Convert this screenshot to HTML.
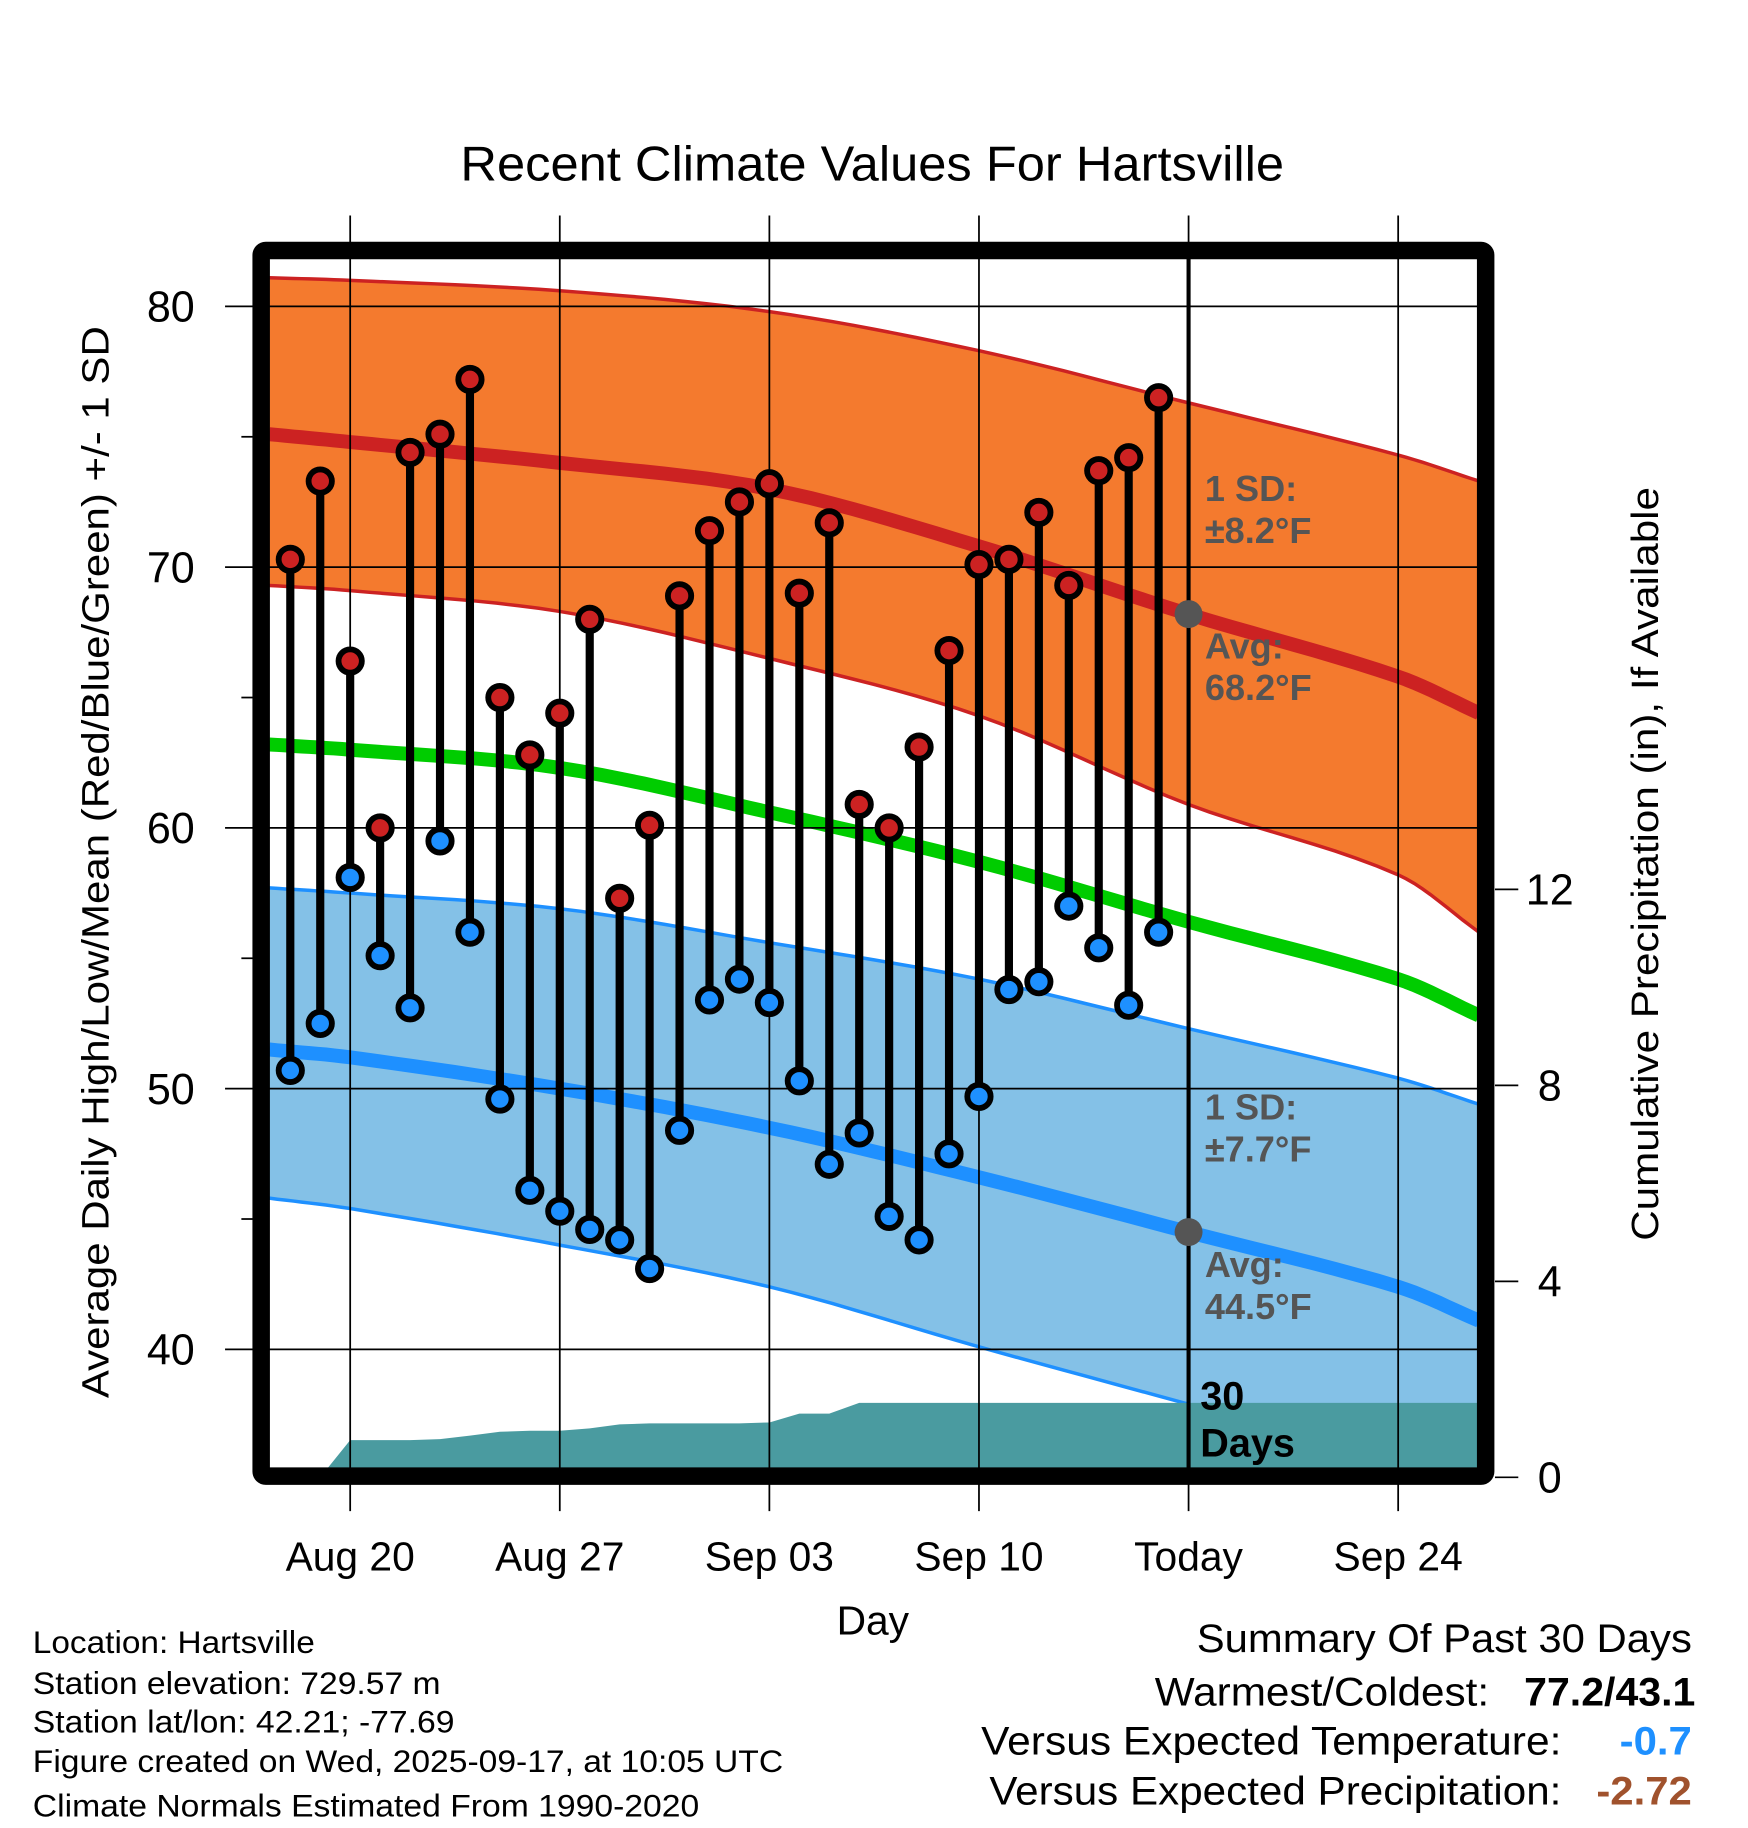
<!DOCTYPE html>
<html><head><meta charset="utf-8"><style>
html,body{margin:0;padding:0;background:#fff}
svg{display:block}
text{font-family:"Liberation Sans",sans-serif}
</style></head><body>
<svg id="chart" width="1748" height="1828" viewBox="0 0 1500 1569" xmlns="http://www.w3.org/2000/svg">
<rect width="1500" height="1569" fill="#fff"/>
<defs><clipPath id="pc"><rect x="231" y="222" width="1037" height="1038"/></clipPath></defs>
<g id="bands" clip-path="url(#pc)"></g>
<g id="grid"></g>
<g id="marks" clip-path="url(#pc)"></g>
<g id="labels"></g>
<text x="395" y="155" font-size="42" textLength="707" lengthAdjust="spacingAndGlyphs">Recent Climate Values For Hartsville</text>
<text x="749" y="1403" font-size="35" text-anchor="middle">Day</text>
<text transform="translate(93,1200) rotate(-90)" font-size="33" textLength="920" lengthAdjust="spacingAndGlyphs">Average Daily High/Low/Mean (Red/Blue/Green) +/- 1 SD</text>
<text transform="translate(1423,1065) rotate(-90)" font-size="33" textLength="647" lengthAdjust="spacingAndGlyphs">Cumulative Precipitation (in), If Available</text>
<g font-size="27">
<text x="28" y="1419" textLength="242" lengthAdjust="spacingAndGlyphs">Location: Hartsville</text>
<text x="28" y="1454" textLength="350" lengthAdjust="spacingAndGlyphs">Station elevation: 729.57 m</text>
<text x="28" y="1487" textLength="362" lengthAdjust="spacingAndGlyphs">Station lat/lon: 42.21; -77.69</text>
<text x="28" y="1521" textLength="644" lengthAdjust="spacingAndGlyphs">Figure created on Wed, 2025-09-17, at 10:05 UTC</text>
<text x="28" y="1559" textLength="572" lengthAdjust="spacingAndGlyphs">Climate Normals Estimated From 1990-2020</text>
</g>
<g font-size="34">
<text x="1027" y="1418" textLength="425" lengthAdjust="spacingAndGlyphs">Summary Of Past 30 Days</text>
<text x="991" y="1464" textLength="287" lengthAdjust="spacingAndGlyphs">Warmest/Coldest:</text>
<text x="1308" y="1464" font-weight="bold" textLength="147" lengthAdjust="spacingAndGlyphs">77.2/43.1</text>
<text x="842" y="1506" textLength="498" lengthAdjust="spacingAndGlyphs">Versus Expected Temperature:</text>
<text x="1390" y="1506" font-weight="bold" fill="#1E90FF" textLength="62" lengthAdjust="spacingAndGlyphs">-0.7</text>
<text x="849" y="1549" textLength="491" lengthAdjust="spacingAndGlyphs">Versus Expected Precipitation:</text>
<text x="1370" y="1549" font-weight="bold" fill="#A0522D" textLength="82" lengthAdjust="spacingAndGlyphs">-2.72</text>
</g>
</svg>
<script>
const highs=[70.3,73.3,66.4,60.0,74.4,75.1,77.2,65.0,62.8,64.4,68.0,57.3,60.1,68.9,71.4,72.5,73.2,69.0,71.7,60.9,60.0,63.1,66.8,70.1,70.3,72.1,69.3,73.7,74.2,76.5];
const lows=[50.7,52.5,58.1,55.1,53.1,59.5,56.0,49.6,46.1,45.3,44.6,44.2,43.1,48.4,53.4,54.2,53.3,50.3,47.1,48.3,45.1,44.2,47.5,49.7,53.8,54.1,57.0,55.4,53.2,56.0];
const precip=[0,0,0.76,0.76,0.76,0.78,0.85,0.93,0.95,0.95,1.0,1.08,1.1,1.1,1.1,1.1,1.12,1.3,1.3,1.52,1.52,1.52,1.52,1.52,1.52,1.52,1.52,1.52,1.52,1.52];
const normDays=[-0.7,2,9,16,23,30,37,39.7];
const normHigh=[75.1,74.8,74.0,73.0,70.8,68.2,65.8,64.4];
const normHighUp=[81.1,81.0,80.6,79.8,78.3,76.3,74.3,73.3];
const normHighDn=[69.3,69.1,68.3,66.5,64.3,60.9,58.2,56.0];
const normMean=[63.2,63.0,62.3,60.6,58.7,56.4,54.2,52.8];
const normLow=[51.5,51.2,50.0,48.5,46.6,44.5,42.4,41.1];
const normLowUp=[57.7,57.5,56.9,55.6,54.2,52.3,50.4,49.4];
const normLowDn=[45.8,45.4,44.0,42.4,40.1,37.9,35.7,35.0];
const yTicks=[40,50,60,70,80];
const y2Ticks=[0,4,8,12];
const xTickDays=[2,9,16,23,30,37];
const xTickLabels=["Aug 20","Aug 27","Sep 03","Sep 10","Today","Sep 24"];
const NS="http://www.w3.org/2000/svg";
const X=d=>249+25.7*d;
const Y=v=>263+(80-v)*22.38;
const Y2=p=>1268-p*42.05;
function mk(tag,attrs,parent){const e=document.createElementNS(NS,tag);for(const k in attrs)e.setAttribute(k,attrs[k]);parent.appendChild(e);return e;}
const bands=document.getElementById('bands'),grid=document.getElementById('grid'),marks=document.getElementById('marks'),labels=document.getElementById('labels');
function sample(arr){
 const out=[];const n=normDays.length;
 for(let i=0;i<n-1;i++){
  const p0=arr[Math.max(0,i-1)],p1=arr[i],p2=arr[i+1],p3=arr[Math.min(n-1,i+2)];
  const d0=normDays[Math.max(0,i-1)],d1=normDays[i],d2=normDays[i+1],d3=normDays[Math.min(n-1,i+2)];
  const m1=(p2-p0)/((d2-d0)||1)*(d2-d1),m2=(p3-p1)/((d3-d1)||1)*(d2-d1);
  for(let s=0;s<10;s++){const t=s/10,t2=t*t,t3=t2*t;
   const v=(2*t3-3*t2+1)*p1+(t3-2*t2+t)*m1+(-2*t3+3*t2)*p2+(t3-t2)*m2;
   out.push([d1+(d2-d1)*t,v]);}
 }
 out.push([normDays[n-1],arr[n-1]]);return out;
}
function line(arr){return sample(arr).map(p=>X(p[0]).toFixed(1)+','+Y(p[1]).toFixed(1)).join(' ');}
function band(up,dn,fill,name,col){
 const a1=sample(up).map(p=>X(p[0])+','+Y(p[1])),a2=sample(dn).reverse().map(p=>X(p[0])+','+Y(p[1]));
 const p=mk('polygon',{points:a1.concat(a2).join(' '),fill:fill},bands);
 
 
 const a=mk('polyline',{points:line(up),fill:'none',stroke:col,'stroke-width':3},bands);
 
 
 const b=mk('polyline',{points:line(dn),fill:'none',stroke:col,'stroke-width':3},bands);
 
 
}
band(normHighUp,normHighDn,'#F47A2E','high-sd-band','#CC2222');
band(normLowUp,normLowDn,'#84C1E7','low-sd-band','#1E90FF');
let pp=[X(-0.7)+','+Y2(0)];
precip.forEach((p,i)=>pp.push(X(i)+','+Y2(p)));
pp.push(X(39.7)+','+Y2(precip[precip.length-1]));pp.push(X(39.7)+','+Y2(0));
const pa=mk('polygon',{points:pp.join(' '),fill:'#4A9BA0'},bands);


[[normHigh,'#CC2222','normal-high-line'],[normMean,'#00CC00','normal-mean-line'],[normLow,'#1E90FF','normal-low-line']].forEach(([a,c,n])=>{
 const l=mk('polyline',{points:line(a),fill:'none',stroke:c,'stroke-width':12},bands);
 
 
});
yTicks.forEach(v=>{
 const l=mk('line',{x1:193,x2:1268,y1:Y(v),y2:Y(v),stroke:'#000','stroke-width':1.5},grid);
 
 
 const t=mk('text',{x:167,y:Y(v)+13,'font-size':37,'text-anchor':'end'},grid);t.textContent=v;
 
 
 if(v!==80){const m=mk('line',{x1:207,x2:217,y1:Y(v+5),y2:Y(v+5),stroke:'#000','stroke-width':1.5},grid);
 
 }
});
xTickDays.forEach((d,i)=>{
 const l=mk('line',{x1:X(d),x2:X(d),y1:185,y2:1297,stroke:'#000','stroke-width':1.5},grid);
 
 
 const t=mk('text',{x:X(d),y:1348,'font-size':35,'text-anchor':'middle'},grid);t.textContent=xTickLabels[i];
 
 
});
y2Ticks.forEach(p=>{
 const l=mk('line',{x1:1283,x2:1303,y1:Y2(p),y2:Y2(p),stroke:'#000','stroke-width':1.5},grid);
 
 
 const t=mk('text',{x:1330,y:Y2(p)+13,'font-size':37,'text-anchor':'middle'},grid);t.textContent=p;
 
 
});
const fr=mk('rect',{x:224,y:215,width:1051,height:1052,fill:'none',stroke:'#000','stroke-width':15,rx:4},grid);


const td=mk('line',{x1:X(30),x2:X(30),y1:222,y2:1260,stroke:'#000','stroke-width':3.5},marks);


highs.forEach((h,i)=>{
 const s=mk('line',{x1:X(i),x2:X(i),y1:Y(h),y2:Y(lows[i]),stroke:'#000','stroke-width':7},marks);
 
 
});
highs.forEach((h,i)=>{
 const c=mk('circle',{cx:X(i),cy:Y(h),r:10,fill:'#CC2222',stroke:'#000','stroke-width':5},marks);
 
 
 const d=mk('circle',{cx:X(i),cy:Y(lows[i]),r:10,fill:'#1E90FF',stroke:'#000','stroke-width':5},marks);
 
 
});
[normHigh,normLow].forEach(a=>{
 const c=mk('circle',{cx:X(30),cy:Y(a[5]),r:12,fill:'#555'},marks);
 
 
});
function lbl(txt,x,y,col,sz){const t=mk('text',{x:x,y:y,'font-size':sz||31,'font-weight':'bold',fill:col},labels);t.textContent=txt;
 
 }
lbl('1 SD:',1034,430,'#555');lbl('±8.2°F',1034,466,'#555');
lbl('Avg:',1034,565,'#555');lbl('68.2°F',1034,601,'#555');
lbl('1 SD:',1034,961,'#555');lbl('±7.7°F',1034,997,'#555');
lbl('Avg:',1034,1096,'#555');lbl('44.5°F',1034,1132,'#555');
lbl('30',1030,1210,'#000',34);lbl('Days',1030,1250,'#000',34);
</script>
</body></html>
